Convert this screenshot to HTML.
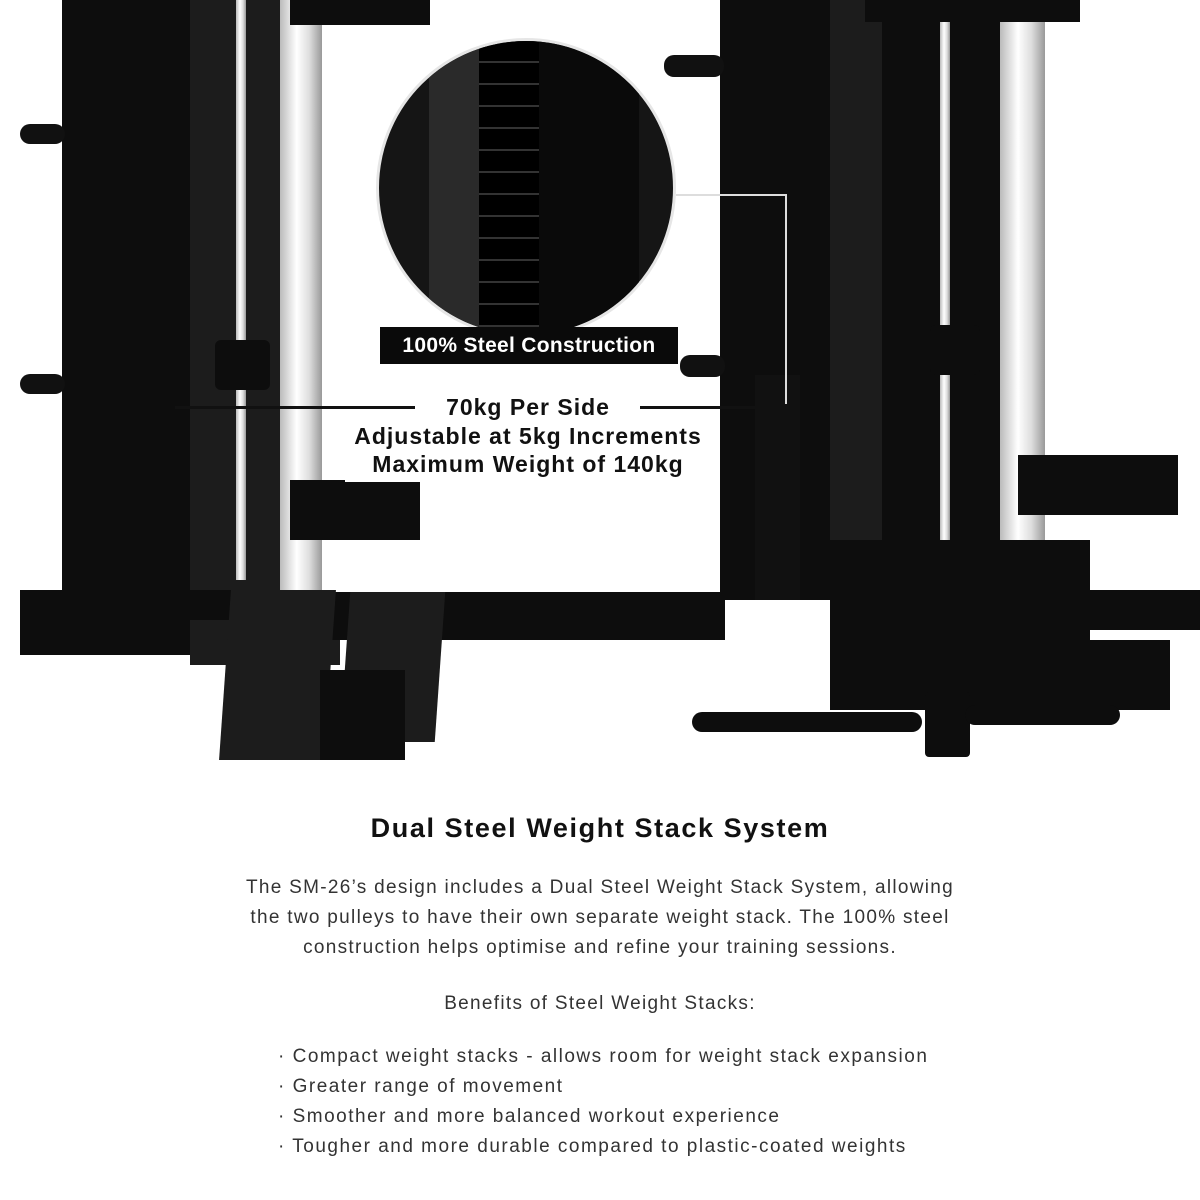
<!DOCTYPE html>
<html><head><meta charset="utf-8"><style>
body{margin:0;width:1200px;height:1200px;background:#fff;position:relative;overflow:hidden;font-family:"Liberation Sans",sans-serif}
.a{position:absolute}
.blk{background:#0d0d0d}
.dk{background:#1c1c1c}
.cr{background:linear-gradient(90deg,#bbb,#fff 40%,#ddd 70%,#999)}
.peg{background:#111;border-radius:10px}
.t{position:absolute;left:0;width:1200px;text-align:center;color:#222}
</style></head><body>
<!-- left tower -->
<div class="a blk" style="left:62px;top:0;width:128px;height:650px"></div>
<div class="a dk" style="left:190px;top:0;width:90px;height:600px"></div>
<div class="a cr" style="left:236px;top:0;width:10px;height:580px"></div>
<div class="a cr" style="left:280px;top:0;width:42px;height:590px"></div>
<div class="a peg" style="left:20px;top:124px;width:45px;height:20px"></div>
<div class="a peg" style="left:20px;top:374px;width:45px;height:20px"></div>
<div class="a blk" style="left:215px;top:340px;width:55px;height:50px;border-radius:6px"></div>
<div class="a blk" style="left:290px;top:480px;width:130px;height:60px"></div>
<div class="a blk" style="left:20px;top:590px;width:215px;height:65px"></div>
<div class="a dk" style="left:190px;top:620px;width:150px;height:45px"></div>
<div class="a blk" style="left:330px;top:592px;width:395px;height:48px"></div>
<div class="a dk" style="left:225px;top:590px;width:105px;height:170px;transform:skewX(-4deg)"></div>
<div class="a dk" style="left:345px;top:592px;width:95px;height:150px;transform:skewX(-4deg)"></div>
<div class="a blk" style="left:320px;top:670px;width:85px;height:90px"></div>
<!-- right tower -->
<div class="a blk" style="left:720px;top:0;width:110px;height:600px"></div>
<div class="a dk" style="left:830px;top:0;width:52px;height:590px"></div>
<div class="a blk" style="left:882px;top:0;width:118px;height:560px"></div>
<div class="a cr" style="left:940px;top:0;width:10px;height:540px"></div>
<div class="a cr" style="left:1000px;top:0;width:45px;height:590px"></div>
<div class="a peg" style="left:664px;top:55px;width:60px;height:22px"></div>
<div class="a peg" style="left:680px;top:355px;width:45px;height:22px"></div>
<div class="a blk" style="left:930px;top:325px;width:50px;height:50px;border-radius:6px"></div>
<div class="a blk" style="left:1018px;top:455px;width:160px;height:60px"></div>
<div class="a blk" style="left:830px;top:540px;width:260px;height:110px"></div>
<div class="a blk" style="left:830px;top:640px;width:340px;height:70px"></div>
<div class="a blk" style="left:1090px;top:590px;width:110px;height:40px"></div>
<div class="a blk" style="left:755px;top:375px;width:45px;height:225px;background:#111"></div>
<div class="a blk" style="left:692px;top:712px;width:230px;height:20px;border-radius:10px"></div>
<div class="a blk" style="left:925px;top:692px;width:45px;height:65px;border-radius:4px"></div>
<div class="a blk" style="left:965px;top:705px;width:155px;height:20px;border-radius:10px"></div>
<div class="a blk" style="left:865px;top:0;width:215px;height:22px"></div>
<div class="a blk" style="left:290px;top:0;width:140px;height:25px"></div>
<!-- magnifier -->
<div class="a" style="left:376px;top:38px;width:300px;height:300px;border-radius:50%;background:#151515;border:3px solid #e6e6e6;box-sizing:border-box;overflow:hidden">
 <div class="a" style="left:50px;top:0;width:60px;height:300px;background:#2a2a2a"></div>
 <div class="a" style="left:100px;top:0;width:60px;height:300px;background:repeating-linear-gradient(#000 0 20px,#333 20px 22px)"></div>
 <div class="a" style="left:160px;top:0;width:100px;height:300px;background:#0a0a0a"></div>
</div>
<div class="a" style="left:676px;top:194px;width:110px;height:2px;background:#ddd"></div>
<div class="a" style="left:785px;top:194px;width:2px;height:210px;background:#ddd"></div>
<!-- labels -->
<div class="a" style="left:380px;top:327px;width:298px;height:37px;background:#0a0a0a;color:#fff;font-weight:bold;font-size:21px;line-height:37px;text-align:center;letter-spacing:0.3px">100% Steel Construction</div>
<div class="a" style="left:345px;top:392px;width:368px;height:90px;background:#fff"></div>
<div class="a" style="left:175px;top:406px;width:240px;height:3px;background:#111"></div>
<div class="a" style="left:640px;top:406px;width:115px;height:3px;background:#111"></div>
<div class="t" style="left:-72px;top:393px;font-size:23px;line-height:28.5px;font-weight:bold;color:#111;letter-spacing:1px">70kg Per Side<br>Adjustable at 5kg Increments<br>Maximum Weight of 140kg</div>
<!-- text -->
<div class="t" style="top:813px;font-size:27px;font-weight:bold;color:#111;letter-spacing:1.6px">Dual Steel Weight Stack System</div>
<div class="t" style="top:873px;font-size:19px;line-height:30px;color:#333;letter-spacing:1.3px">The SM-26’s design includes a Dual Steel Weight Stack System, allowing<br>the two pulleys to have their own separate weight stack. The 100% steel<br>construction helps optimise and refine your training sessions.</div>
<div class="t" style="top:993px;font-size:19px;color:#333;letter-spacing:1.3px">Benefits of Steel Weight Stacks:</div>
<div class="a" style="left:278px;top:1042px;font-size:19px;line-height:30px;color:#333;letter-spacing:1.5px">· Compact weight stacks - allows room for weight stack expansion<br>· Greater range of movement<br>· Smoother and more balanced workout experience<br>· Tougher and more durable compared to plastic-coated weights</div>
</body></html>
